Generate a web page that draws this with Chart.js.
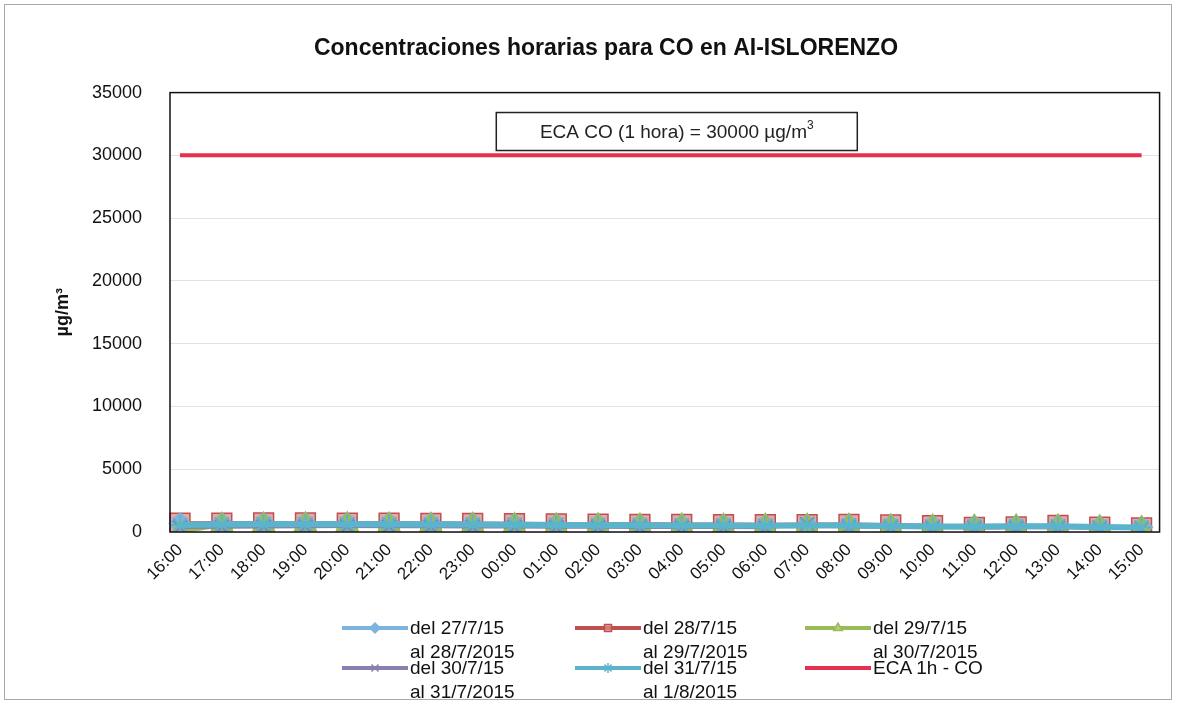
<!DOCTYPE html>
<html>
<head>
<meta charset="utf-8">
<script src="https://cdn.jsdelivr.net/npm/chart.js@4.4.1/dist/chart.umd.min.js"></script>
<style>
  body { margin: 0; background: #fff; font-family: Arial, "Liberation Sans", sans-serif; }
  #wrap { position: relative; width: 1182px; height: 704px; }
  #frame { position: absolute; left: 4px; top: 4px; width: 1166px; height: 694px; border: 1px solid #aaa; pointer-events: none; }
  .leg { position: absolute; font-size: 19px; line-height: 24px; color: #111; }
  .leg canvas { position: absolute; left: -68px; top: 2px; }
</style>
</head>
<body>
<div id="wrap">
  <canvas id="myChart" width="1182" height="704"></canvas>
  <div id="frame"></div>
</div>
<script>
const hours = ['16:00', '17:00', '18:00', '19:00', '20:00', '21:00', '22:00', '23:00',
  '00:00', '01:00', '02:00', '03:00', '04:00', '05:00', '06:00', '07:00',
  '08:00', '09:00', '10:00', '11:00', '12:00', '13:00', '14:00', '15:00'];

const yTicks = [0, 5000, 10000, 15000, 20000, 25000, 30000, 35000];

const del27 = [650, 680, 690, 700, 690, 680, 670, 650, 620, 600, 590, 570, 560, 550, 540, 560, 570, 520, 480, 470, 490, 500, 430, 380];
const del28 = [700, 710, 720, 720, 710, 700, 690, 680, 660, 640, 620, 610, 600, 590, 580, 590, 600, 560, 500, 360, 400, 520, 380, 330];
const del29 = [0, 560, 580, 600, 590, 580, 560, 550, 530, 520, 510, 500, 490, 480, 470, 480, 470, 440, 420, 400, 410, 420, 360, 300];
const del30 = [350, 380, 400, 420, 430, 420, 410, 400, 390, 380, 370, 360, 350, 350, 340, 620, 400, 380, 330, 320, 330, 340, 300, 280];
const del31 = [560, 600, 610, 620, 620, 610, 600, 590, 570, 560, 540, 530, 520, 510, 500, 520, 510, 480, 440, 430, 450, 460, 400, 350];
const eca = [30000, 30000, 30000, 30000, 30000, 30000, 30000, 30000, 30000, 30000, 30000, 30000,
  30000, 30000, 30000, 30000, 30000, 30000, 30000, 30000, 30000, 30000, 30000, 30000];

const seriesNames = [['del 27/7/15', 'al 28/7/2015'], ['del 28/7/15', 'al 29/7/2015'], ['del 29/7/15', 'al 30/7/2015'],
  ['del 30/7/15', 'al 31/7/2015'], ['del 31/7/15', 'al 1/8/2015'], ['ECA 1h - CO']];

// box with the limit text, drawn above the ECA line, plus the plot frame
const ecaBox = {
  id: 'ecaBox',
  afterDatasetsDraw(chart) {
    const ctx = chart.ctx;
    const area = chart.chartArea;
    const y = chart.scales.y.getPixelForValue(31900);
    const cx = (area.left + area.right) / 2 + 12;
    const w = 361, h = 38;
    ctx.save();
    ctx.fillStyle = '#fff';
    ctx.fillRect(cx - w / 2, y - h / 2, w, h);
    ctx.strokeStyle = '#222';
    ctx.lineWidth = 1.5;
    ctx.strokeRect(cx - w / 2, y - h / 2, w, h);
    ctx.fillStyle = '#222';
    ctx.textBaseline = 'middle';
    ctx.font = '19px Arial, "Liberation Sans"';
    const main = 'ECA CO (1 hora) = 30000 µg/m';
    const mw = ctx.measureText(main).width;
    ctx.font = '12px Arial, "Liberation Sans"';
    const sw = ctx.measureText('3').width;
    const start = cx - (mw + sw) / 2;
    ctx.textAlign = 'left';
    ctx.font = '19px Arial, "Liberation Sans"';
    ctx.fillText(main, start, y + 1);
    ctx.font = '12px Arial, "Liberation Sans"';
    ctx.fillText('3', start + mw, y - 6);
    ctx.restore();
  },
  afterDraw(chart) {
    const ctx = chart.ctx;
    const a = chart.chartArea;
    ctx.save();
    ctx.strokeStyle = '#111';
    ctx.lineWidth = 1.5;
    ctx.strokeRect(a.left, a.top, a.right - a.left, a.bottom - a.top);
    ctx.restore();
  }
};

function displayChart() {
  const ctx = document.getElementById('myChart');
  return new Chart(ctx, {
    type: 'line',
    data: {
      labels: hours,
      datasets: [
        { label: seriesNames[0].join(' '), data: del27, borderColor: '#7eb3dd', backgroundColor: '#7eb3dd',
          borderWidth: 4, pointStyle: 'rectRot', pointRadius: 9, order: 4 },
        { label: seriesNames[1].join(' '), data: del28, borderColor: '#c0504d', backgroundColor: 'rgba(215,140,140,0.75)',
          borderWidth: 4, pointBorderWidth: 1.5, pointStyle: 'rect', pointRadius: 14, order: 5 },
        { label: seriesNames[2].join(' '), data: del29, borderColor: '#9bbb59', backgroundColor: '#b3cc78',
          borderWidth: 4, pointStyle: 'triangle', pointRadius: 10, order: 3 },
        { label: seriesNames[3].join(' '), data: del30, borderColor: '#8a7fb0', backgroundColor: '#8a7fb0',
          borderWidth: 3, pointStyle: 'crossRot', pointRadius: 10, pointBorderWidth: 2, order: 2 },
        { label: seriesNames[4].join(' '), data: del31, borderColor: '#5ab4cc', backgroundColor: '#5ab4cc',
          borderWidth: 6, pointStyle: 'star', pointRadius: 10, pointBorderWidth: 2, order: 1 },
        { label: seriesNames[5][0], data: eca, borderColor: '#e5304e', backgroundColor: '#e5304e',
          borderWidth: 4, pointRadius: 0, order: 0 }
      ]
    },
    options: {
      responsive: false,
      animation: false,
      layout: { padding: { left: 52, right: 22, top: 10, bottom: 92 } },
      plugins: {
        legend: { display: false },
        tooltip: { enabled: false },
        title: {
          display: true,
          text: 'Concentraciones horarias para CO en AI-ISLORENZO',
          color: '#111',
          font: { family: 'Arial, "Liberation Sans"', size: 23, weight: 'bold' },
          padding: { top: 25, bottom: 30 }
        }
      },
      scales: {
        x: {
          offset: false,
          grid: { display: false, drawTicks: false },
          border: { display: false },
          afterFit(scale) { scale.height = 80; },
          afterUpdate(scale) {
            // small margins between the frame and the first / last hour
            scale._startValue = -0.24;
            scale._valueRange = 23.67;
          },
          ticks: {
            color: '#111', maxRotation: 45, minRotation: 45, autoSkip: false, padding: 8,
            font: { family: 'Arial, "Liberation Sans"', size: 17 }
          }
        },
        y: {
          min: 0, max: 35000,
          afterFit(scale) { scale.width = 118; },
          afterBuildTicks(scale) { scale.ticks = yTicks.map(v => ({ value: v })); },
          grid: { color: '#e2e2e2', drawTicks: false },
          border: { display: false },
          title: {
            display: true, text: 'µg/m³', color: '#111', padding: { top: 0, bottom: 0 },
            font: { family: 'Arial, "Liberation Sans"', size: 18, weight: 'bold' }
          },
          ticks: {
            color: '#111', padding: 28,
            callback: v => String(v),
            font: { family: 'Arial, "Liberation Sans"', size: 18 }
          }
        }
      }
    },
    plugins: [ecaBox]
  });
}

const chart = displayChart();

// legend under the chart, three columns
const legendPos = [[410, 616], [643, 616], [873, 616], [410, 656], [643, 656], [873, 656]];
chart.data.datasets.forEach((ds, i) => {
  const item = document.createElement('div');
  item.className = 'leg';
  item.style.left = legendPos[i][0] + 'px';
  item.style.top = legendPos[i][1] + 'px';
  const c = document.createElement('canvas');
  c.width = 66; c.height = 20;
  const g = c.getContext('2d');
  g.strokeStyle = ds.borderColor;
  g.lineWidth = 4;
  g.beginPath(); g.moveTo(0, 10); g.lineTo(66, 10); g.stroke();
  if (ds.pointRadius > 0) {
    g.fillStyle = ds.backgroundColor;
    g.strokeStyle = ds.borderColor;
    g.lineWidth = 1.5;
    Chart.helpers.drawPoint(g, { pointStyle: ds.pointStyle, radius: 5, rotation: 0, borderWidth: 1.5 }, 33, 10);
  }
  item.appendChild(c);
  item.insertAdjacentHTML('beforeend', seriesNames[i].join('<br>'));
  document.getElementById('wrap').appendChild(item);
});
</script>
</body>
</html>
